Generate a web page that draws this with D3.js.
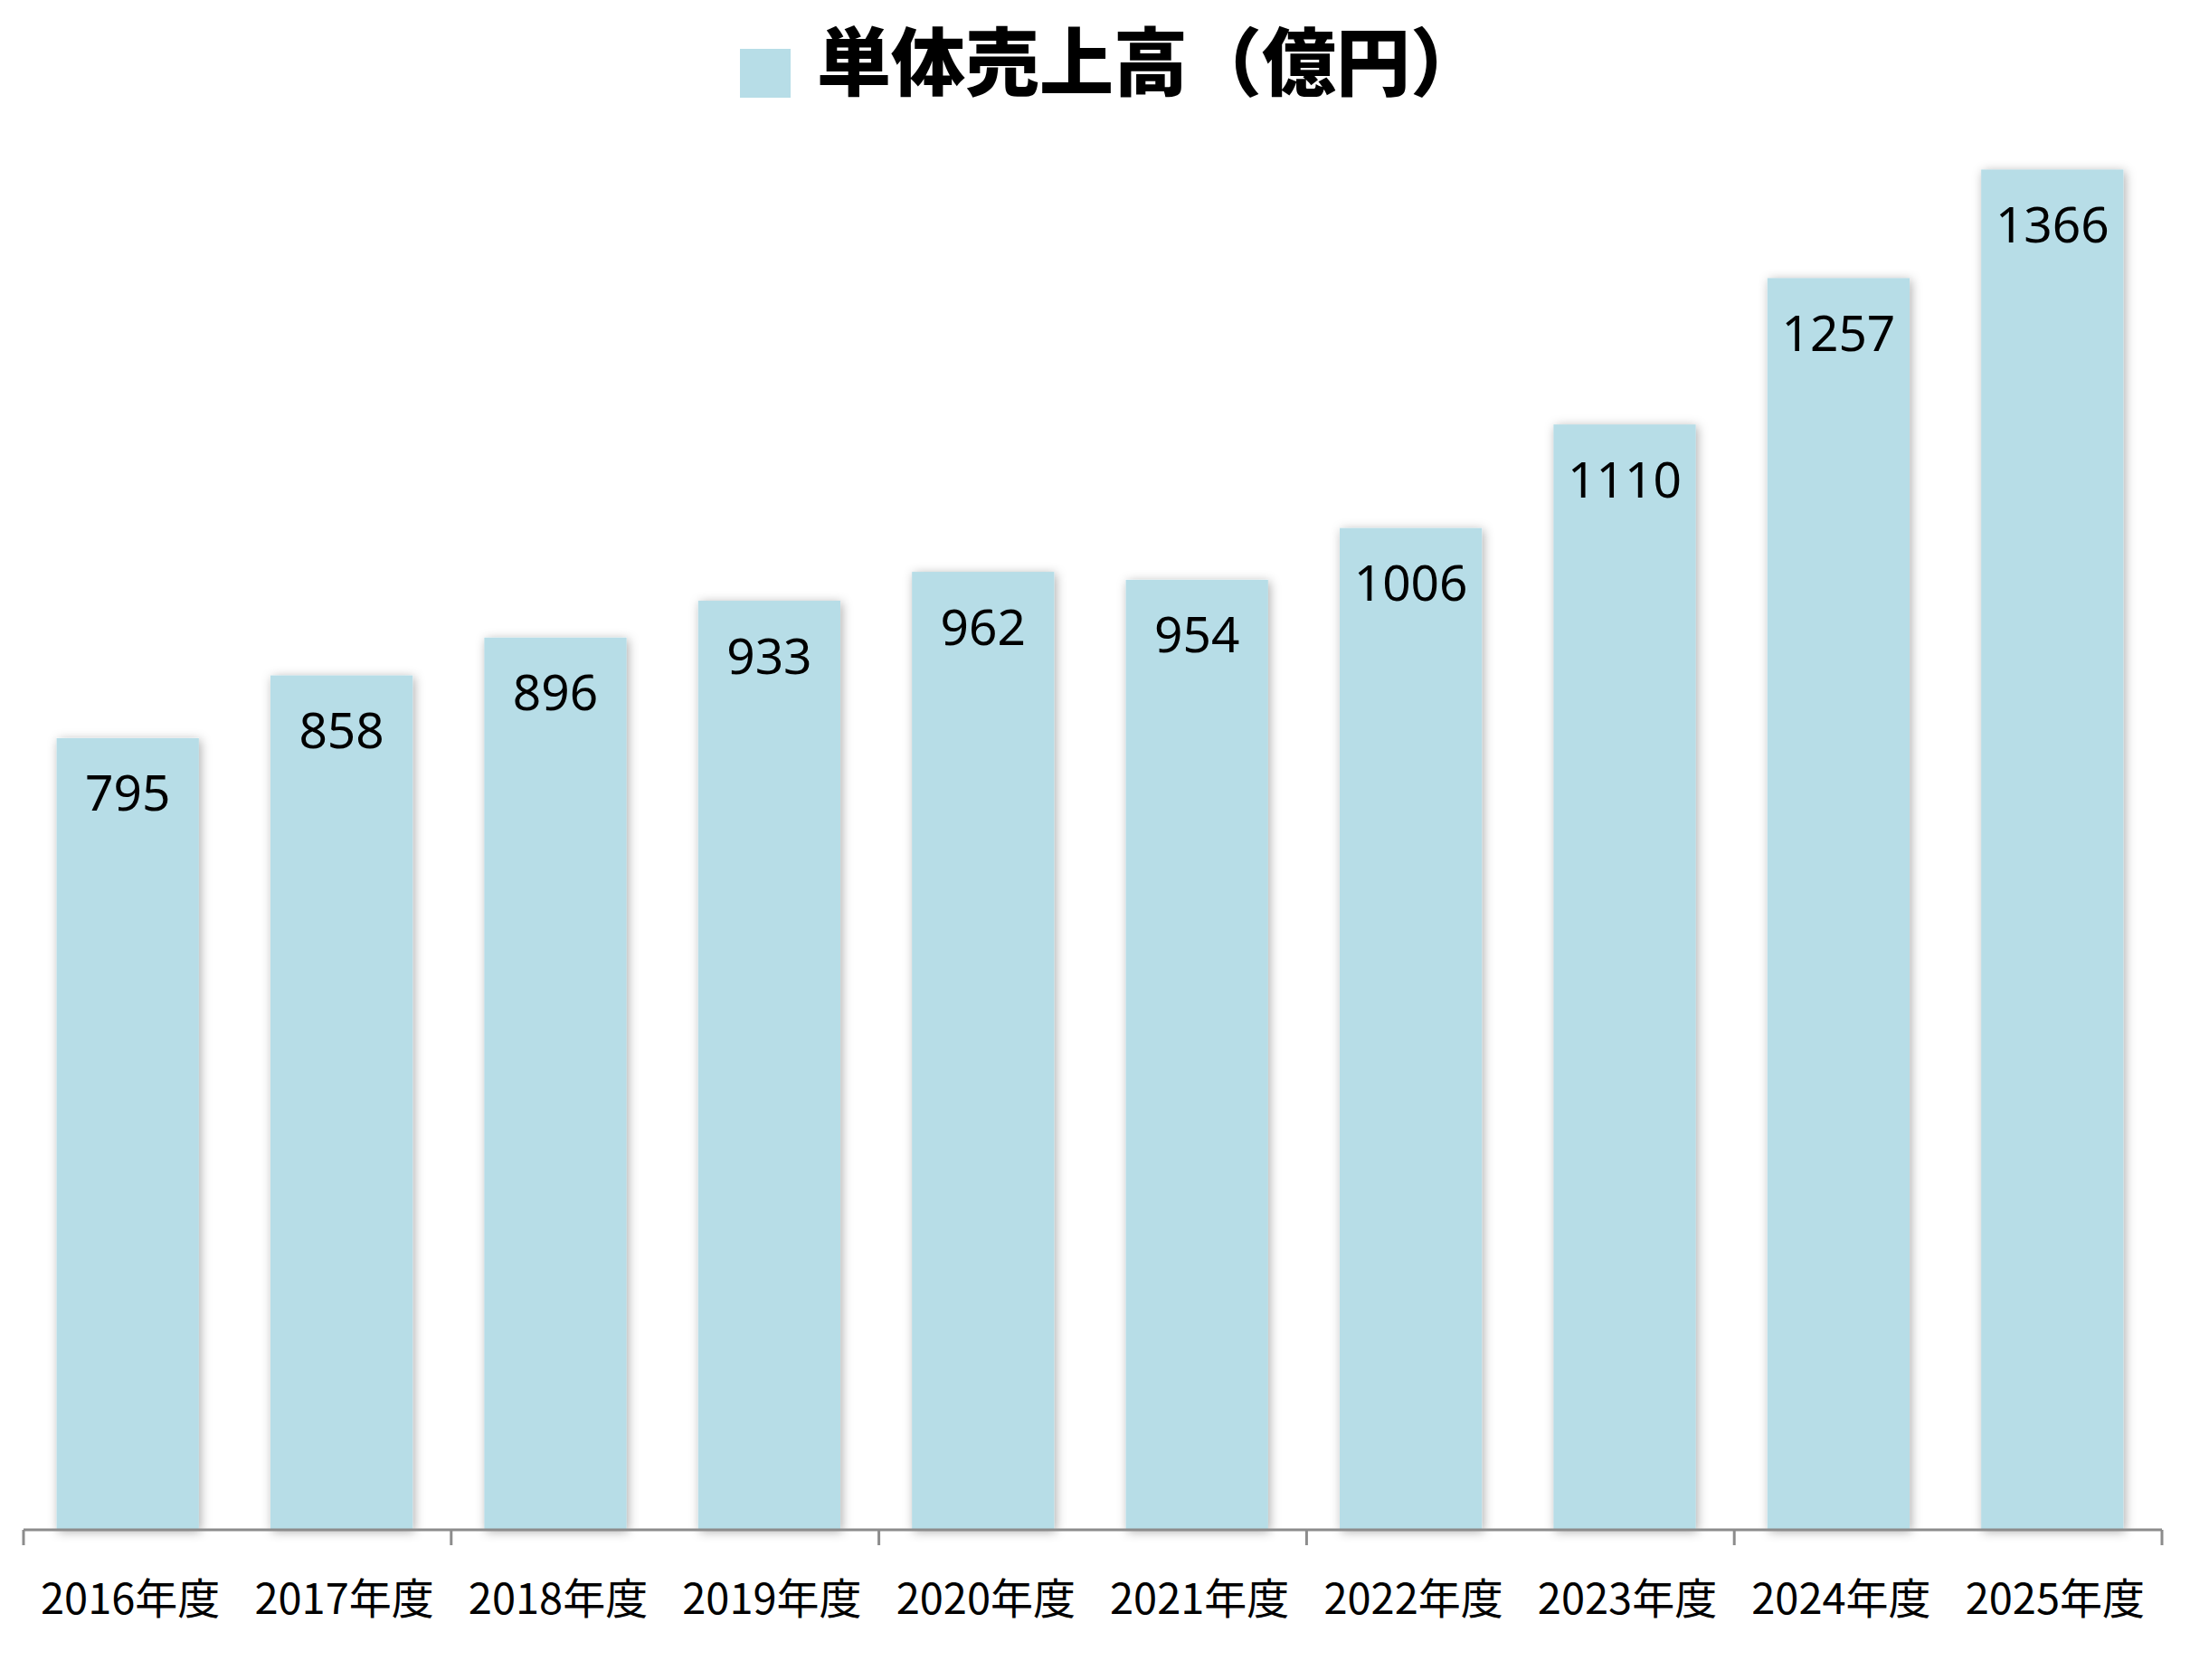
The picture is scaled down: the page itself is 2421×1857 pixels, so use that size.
<!DOCTYPE html>
<html>
<head>
<meta charset="utf-8">
<script src="https://cdn.jsdelivr.net/npm/d3@7"></script>
<style>
  html, body { margin: 0; padding: 0; background: #fff; }
  svg { display: block; }
</style>
</head>
<body>
<div id="chart"></div>
<script>
var w = 2421;
var h = 1857;

// data
var years = ["2016年度", "2017年度", "2018年度", "2019年度", "2020年度",
             "2021年度", "2022年度", "2023年度", "2024年度", "2025年度"];
var sales = [795, 858, 896, 933, 962, 954, 1006, 1110, 1257, 1366];
var seriesName = "単体売上高（億円）";

var barColor = "#b7dde7";
var axisColor = "#8c8c8c";

// plot area (note: "top" is a reserved window property, so plotTop)
var plotLeft = 26, plotRight = 2390, plotTop = 150, plotBase = 1691;
var barShift = -3;   // bars sit a hair left of the slot centre

function init() {
	var svg = d3.select("#chart").append("svg")
		.attr("width", w)
		.attr("height", h);

	var defs = svg.append("defs");
	var f = defs.append("filter").attr("id", "shadow")
		.attr("x", "-25%").attr("y", "-5%").attr("width", "150%").attr("height", "110%");
	f.append("feDropShadow")
		.attr("dx", 2).attr("dy", 2)
		.attr("stdDeviation", 6)
		.attr("flood-color", "#000")
		.attr("flood-opacity", 0.32);

	var xScale = d3.scaleBand()
		.domain(years)
		.range([plotLeft, plotRight])
		.paddingInner(0.335)
		.paddingOuter(0.1675);

	var yScale = d3.scaleLinear()
		.domain([0, 1400])
		.range([plotBase, plotTop]);

	// bars
	svg.selectAll("rect.bar")
		.data(sales)
		.enter().append("rect")
		.attr("class", "bar")
		.attr("x", function(d, i) { return xScale(years[i]) + barShift; })
		.attr("y", function(d) { return yScale(d); })
		.attr("width", xScale.bandwidth())
		.attr("height", function(d) { return plotBase - yScale(d); })
		.attr("fill", barColor)
		.attr("filter", "url(#shadow)");

	// value labels inside bar tops
	svg.selectAll("text.val")
		.data(sales)
		.enter().append("text")
		.attr("class", "val")
		.attr("x", function(d, i) { return xScale(years[i]) + barShift + xScale.bandwidth() / 2; })
		.attr("y", function(d) { return yScale(d) + 59; })
		.attr("text-anchor", "middle")
		.attr("dominant-baseline", "central")
		.attr("font-family", "'Noto Sans', 'Open Sans', sans-serif")
		.attr("font-size", 55)
		.attr("fill", "#000")
		.text(function(d) { return d; });

	// x axis: baseline plus a tick every two categories
	var step = xScale.step();
	var tickPos = [];
	for (var i = 0; i <= years.length; i += 2) {
		tickPos.push(plotLeft + i * step);
	}
	svg.append("line")
		.attr("x1", plotLeft).attr("x2", plotRight)
		.attr("y1", plotBase).attr("y2", plotBase)
		.attr("stroke", axisColor)
		.attr("stroke-width", 3);
	svg.selectAll("line.tick")
		.data(tickPos)
		.enter().append("line")
		.attr("class", "tick")
		.attr("x1", function(d) { return d; })
		.attr("x2", function(d) { return d; })
		.attr("y1", plotBase)
		.attr("y2", plotBase + 17)
		.attr("stroke", axisColor)
		.attr("stroke-width", 3);

	svg.selectAll("text.cat")
		.data(years)
		.enter().append("text")
		.attr("class", "cat")
		.attr("x", function(d) { return xScale(d) + xScale.bandwidth() / 2; })
		.attr("y", 1763)
		.attr("text-anchor", "middle")
		.attr("dominant-baseline", "central")
		.attr("font-family", "'Noto Sans CJK JP', sans-serif")
		.attr("font-size", 47)
		.attr("fill", "#000")
		.text(function(d) { return d; });

	// legend / title
	svg.append("rect")
		.attr("x", 818).attr("y", 54)
		.attr("width", 56).attr("height", 54)
		.attr("fill", barColor);
	svg.append("text")
		.attr("x", 903)
		.attr("y", 63)
		.attr("dominant-baseline", "central")
		.attr("font-family", "'Noto Sans CJK JP', sans-serif")
		.attr("font-weight", 900)
		.attr("font-size", 82)
		.attr("fill", "#000")
		.text(seriesName);
}

window.onload = init;
</script>
</body>
</html>
